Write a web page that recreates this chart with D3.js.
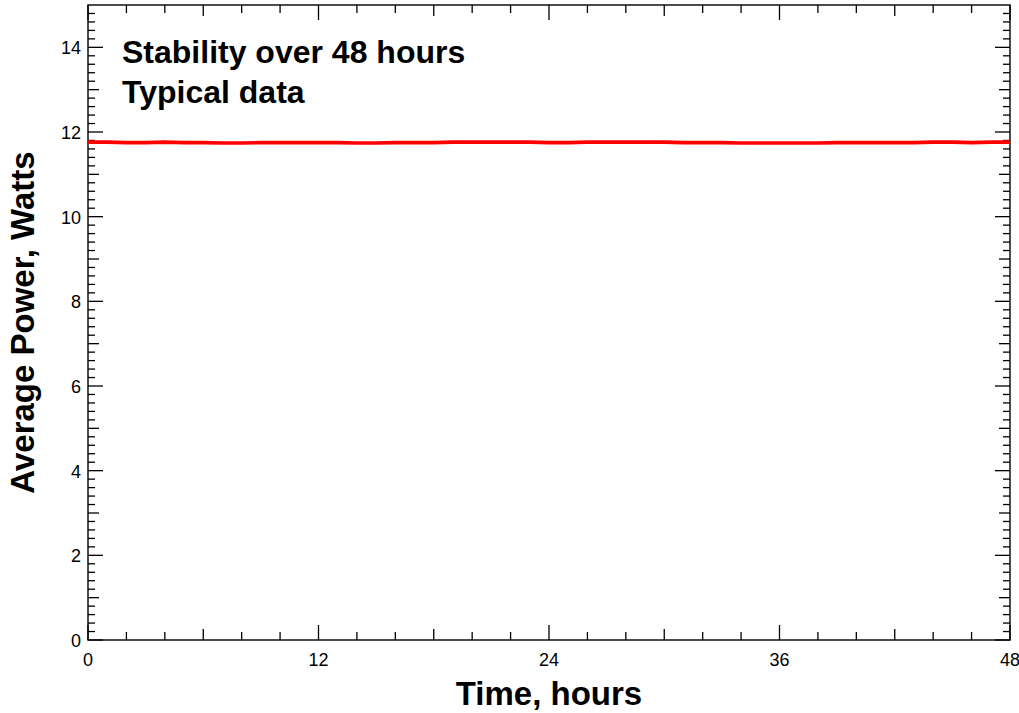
<!DOCTYPE html>
<html><head><meta charset="utf-8">
<script src="https://cdn.jsdelivr.net/npm/d3@7"></script>
<style>body{margin:0;background:#fff}svg{display:block}text{font-family:"Liberation Sans",Arial,sans-serif}</style>
</head><body>
<script>
// Data (hours, watts)
const hours = [0,1,2,3,4,5,6,7,8,9,10,11,12,13,14,15,16,17,18,19,20,21,22,23,24,25,26,27,28,29,30,31,32,33,34,35,36,37,38,39,40,41,42,43,44,45,46,47,48];
const power = [11.76,11.76,11.75,11.75,11.76,11.75,11.75,11.74,11.74,11.75,11.75,11.75,11.75,11.75,11.74,11.74,11.75,11.75,11.75,11.76,11.76,11.76,11.76,11.76,11.75,11.75,11.76,11.76,11.76,11.76,11.76,11.75,11.75,11.75,11.74,11.74,11.74,11.74,11.74,11.75,11.75,11.75,11.75,11.75,11.76,11.76,11.75,11.76,11.76];
const xTickLabels = [0,12,24,36,48];
const yTickLabels = [0,2,4,6,8,10,12,14];
const titleLines = ["Stability over 48 hours","Typical data"];
const xTitle = "Time, hours";
const yTitle = "Average Power, Watts";

const W = 1019, H = 713;
const m = {left:88, right:9, top:5, bottom:73};
const svg = d3.select("body").append("svg").attr("width",W).attr("height",H);
const x = d3.scaleLinear().domain([0,48]).range([m.left, W-m.right]);
const y = d3.scaleLinear().domain([0,15]).range([H-m.bottom, m.top]);

const g = svg.append("g");
// frame
g.append("rect").attr("x",x(0)).attr("y",y(15)).attr("width",x(48)-x(0)).attr("height",y(0)-y(15))
 .attr("fill","none").attr("stroke","#000").attr("stroke-width",1.4);

// ticks
const xt = d3.range(0,49,2);
xt.forEach(v=>{
  const len = v%12===0 ? 15 : (v%6===0 ? 11 : 8);
  g.append("line").attr("x1",x(v)).attr("x2",x(v)).attr("y1",y(0)).attr("y2",y(0)-len).attr("stroke","#000").attr("stroke-width",1.3);
  g.append("line").attr("x1",x(v)).attr("x2",x(v)).attr("y1",y(15)).attr("y2",y(15)+len).attr("stroke","#000").attr("stroke-width",1.3);
});
const yt = d3.range(0,75).map(i=>i/5);
yt.forEach(v=>{
  const r = Math.round(v*5);
  const len = r%10===0 ? 15 : (r%5===0 ? 11 : 7);
  g.append("line").attr("x1",x(0)).attr("x2",x(0)+len).attr("y1",y(v)).attr("y2",y(v)).attr("stroke","#000").attr("stroke-width",1.3);
  g.append("line").attr("x1",x(48)).attr("x2",x(48)-len).attr("y1",y(v)).attr("y2",y(v)).attr("stroke","#000").attr("stroke-width",1.3);
});
// tick labels
xTickLabels.forEach(v=>{
  g.append("text").attr("x",x(v)).attr("y",y(0)+26).attr("text-anchor","middle").attr("font-size",18).text(v);
});
yTickLabels.forEach(v=>{
  g.append("text").attr("x",x(0)-7).attr("y",y(v)+7).attr("text-anchor","end").attr("font-size",18).text(v);
});

// data line
const line = d3.line().x((d,i)=>x(hours[i])).y(d=>y(d));
g.append("path").datum(power).attr("d",line).attr("fill","none").attr("stroke","#ff0000").attr("stroke-width",3.6);

// titles
titleLines.forEach((t,i)=>{
  g.append("text").attr("x",122).attr("y",63+i*40).attr("font-size",32).attr("font-weight","bold").text(t);
});
svg.append("text").attr("x",(x(0)+x(48))/2).attr("y",705).attr("text-anchor","middle").attr("font-size",33).attr("font-weight","bold").text(xTitle);
svg.append("text").attr("transform",`translate(34,${(y(0)+y(15))/2}) rotate(-90)`).attr("text-anchor","middle").attr("font-size",33).attr("font-weight","bold").text(yTitle);
</script>
</body></html>
